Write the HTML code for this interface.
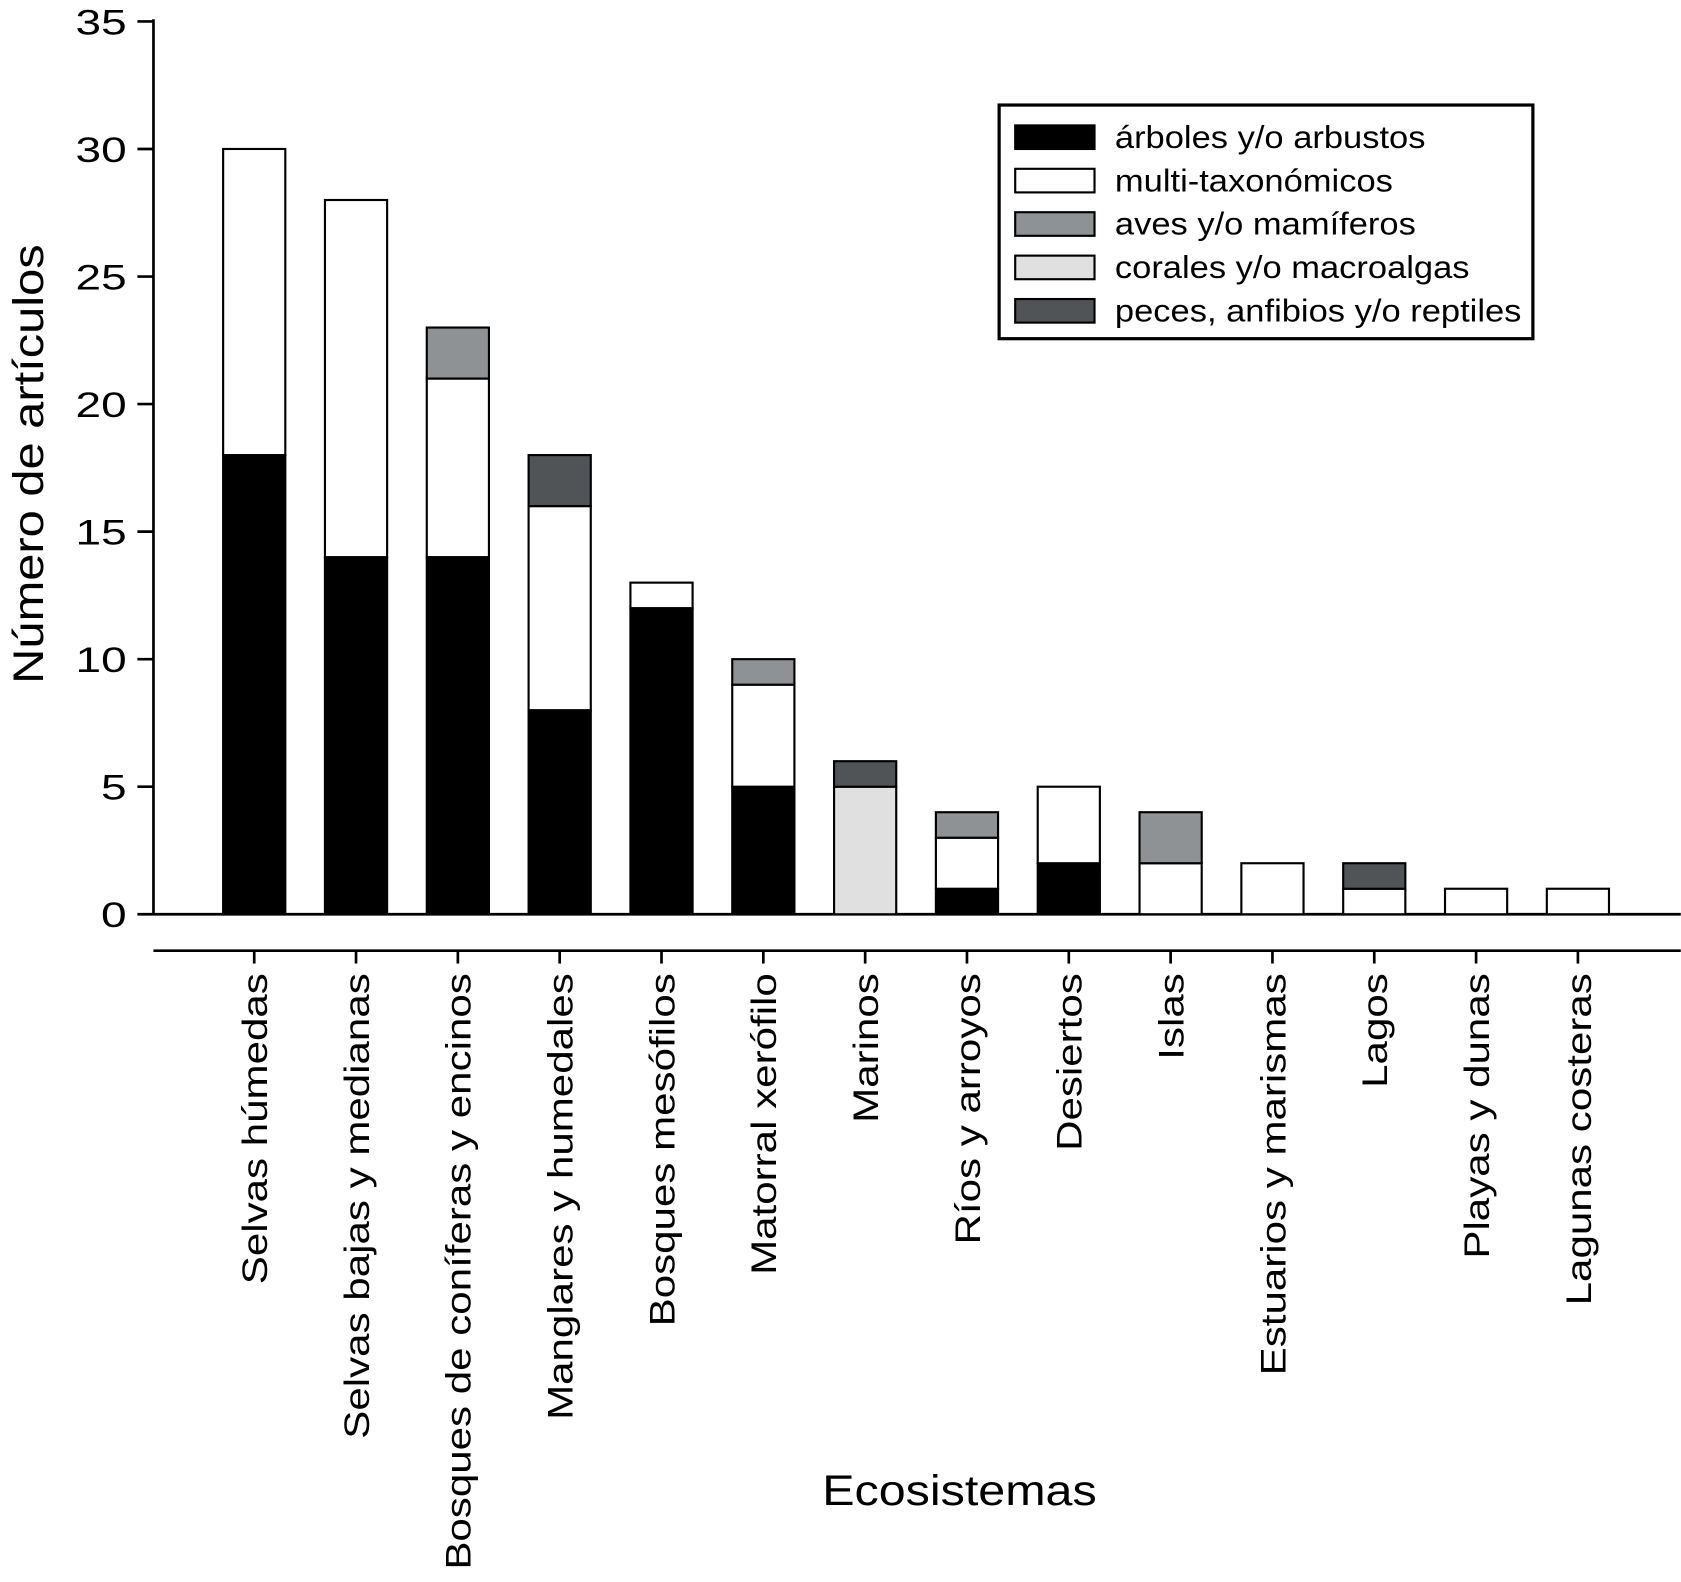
<!DOCTYPE html>
<html><head><meta charset="utf-8"><style>
html,body{margin:0;padding:0;background:#fff;}
svg{display:block;font-family:"Liberation Sans",sans-serif;}
</style></head><body>
<svg id="chart" width="1681" height="1582" viewBox="0 0 1568 1476" xmlns="http://www.w3.org/2000/svg">
<g id="axes"></g>
<g id="bars"></g>
<g id="xlabels"></g>
<text x="0" y="0" transform="translate(40,433) rotate(-90)" text-anchor="middle" font-size="40" textLength="410" lengthAdjust="spacingAndGlyphs">Número de artículos</text>
<text data-stretch="1.13" x="895" y="1404" text-anchor="middle" font-size="40">Ecosistemas</text>
<g>
<rect x="932" y="98" width="498" height="218" fill="#fff" stroke="#000" stroke-width="3"/>
<g id="legend-entries"></g>
</g>
</svg>
<script>
const categories=["Selvas húmedas","Selvas bajas y medianas","Bosques de coníferas y encinos","Manglares y humedales","Bosques mesófilos","Matorral xerófilo","Marinos","Ríos y arroyos","Desiertos","Islas","Estuarios y marismas","Lagos","Playas y dunas","Lagunas costeras"];
const arboles=[18,14,14,8,12,5,0,1,2,0,0,0,0,0];
const multi=[12,14,7,8,1,4,0,2,3,2,2,1,1,1];
const aves=[0,0,2,0,0,1,0,1,0,2,0,0,0,0];
const corales=[0,0,0,0,0,0,5,0,0,0,0,0,0,0];
const peces=[0,0,0,2,0,0,1,0,0,0,0,1,0,0];
const yTicks=[0,5,10,15,20,25,30,35];
const seriesNames=["árboles y/o arbustos","multi-taxonómicos","aves y/o mamíferos","corales y/o macroalgas","peces, anfibios y/o reptiles"];
const seriesColors=["#000000","#ffffff","#8f9294","#e0e0e0","#515456"];
const seriesData=[arboles,multi,aves,corales,peces];

const NS="http://www.w3.org/2000/svg";
const y0=853, unit=833/35;
function yScale(v){return y0-v*unit;}
function xScale(i){return 237+i*95;}
function mk(tag,attrs,parent){const e=document.createElementNS(NS,tag);for(const k in attrs)e.setAttribute(k,attrs[k]);parent.appendChild(e);return e;}
const axes=document.getElementById('axes');
let l=mk('line',{x1:143,y1:18,x2:143,y2:y0,stroke:'#000','stroke-width':2.5},axes);


l=mk('line',{x1:143,y1:y0,x2:1568,y2:y0,stroke:'#000','stroke-width':2.5},axes);


l=mk('line',{x1:143,y1:887,x2:1568,y2:887,stroke:'#000','stroke-width':2.5},axes);


yTicks.forEach(t=>{
  const y=yScale(t);
  const tk=mk('line',{x1:128,y1:y,x2:143,y2:y,stroke:'#000','stroke-width':2.5},axes);
  
  
  const tx=mk('text',{x:118,y:y+12,'text-anchor':'end','font-size':33,'data-stretch':1.3},axes);
  tx.textContent=t;
  
  
});
const bars=document.getElementById('bars');
const xl=document.getElementById('xlabels');
categories.forEach((c,i)=>{
  const cx=xScale(i);
  const tk=mk('line',{x1:cx,y1:887,x2:cx,y2:899,stroke:'#000','stroke-width':2.5},axes);
  
  
  let base=0;
  seriesData.forEach((s,k)=>{
    const v=s[i]; if(!v) return;
    const r=mk('rect',{x:cx-29,y:yScale(base+v),width:58,height:v*unit,fill:seriesColors[k],stroke:'#000','stroke-width':2},bars);
    
    
    base+=v;
  });
  const t=mk('text',{x:0,y:0,transform:`translate(${cx+12},908) rotate(-90)`,'text-anchor':'end','font-size':33,'data-stretch':1.19},xl);
  t.textContent=c;
  
  
});
const le=document.getElementById('legend-entries');
seriesNames.forEach((n,k)=>{
  const cy=128+k*40.5;
  const r=mk('rect',{x:947,y:cy-11,width:74,height:22,fill:seriesColors[k],stroke:'#000','stroke-width':2},le);
  
  
  const t=mk('text',{x:1040,y:cy+10,'font-size':29,'data-stretch':1.11},le);
  t.textContent=n;
  
  
});
document.querySelectorAll('[data-stretch]').forEach(t=>{
  const w=t.getComputedTextLength();
  t.setAttribute('textLength',(w*parseFloat(t.getAttribute('data-stretch'))).toFixed(1));
  t.setAttribute('lengthAdjust','spacingAndGlyphs');
});
</script>
</body></html>
